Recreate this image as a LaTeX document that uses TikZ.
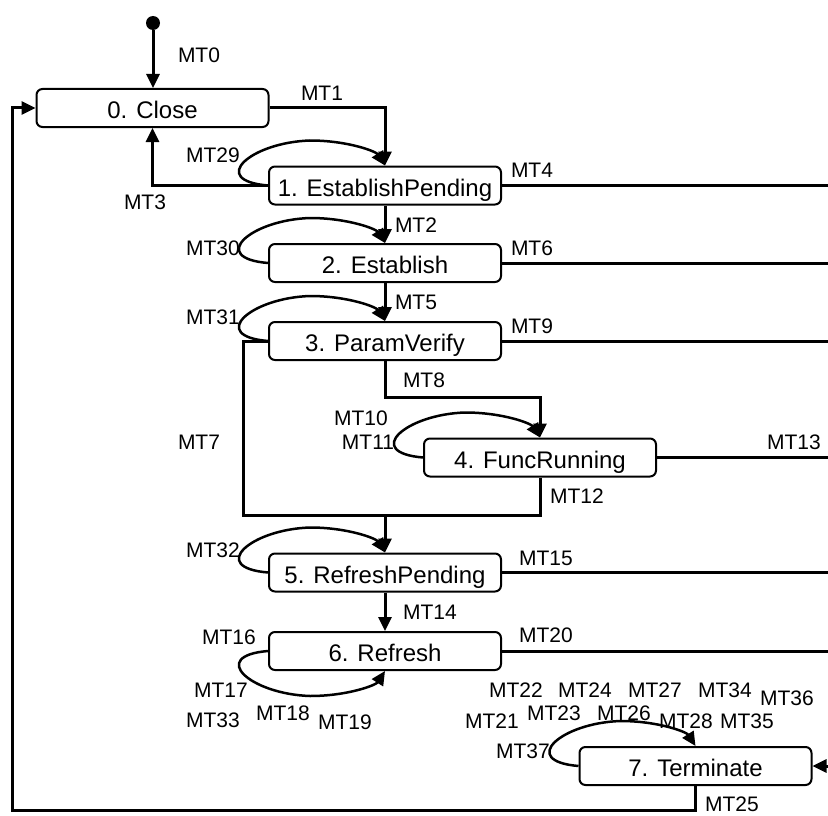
\documentclass[tikz,border=0pt]{standalone}
\usepackage{fontspec}
\setmainfont{Liberation Sans}
\usetikzlibrary{arrows.meta,calc}
\begin{document}
\begin{tikzpicture}[x=1pt,y=1pt,
  state/.style={draw, line width=2pt, rounded corners=6pt, minimum width=232pt, minimum height=38pt,
    inner sep=0pt, text height=21pt, text depth=0pt, font=\fontsize{24}{28}\selectfont},
  lbl/.style={inner sep=0pt, font=\fontsize{21}{25}\selectfont},
  conn/.style={line width=3pt},
  arr/.style={conn, -{Triangle[length=14pt,width=13pt]}},
  loopline/.style={line width=2.5pt, -{Triangle[length=14pt,width=13pt]}},
]
\useasboundingbox (0,0) rectangle (828,-816);

% states
\node[state] (close) at (152.5,-108) {0. Close};
\node[state] (ep)    at (385,-185.5) {1. EstablishPending};
\node[state] (est)   at (385,-263)   {2. Establish};
\node[state] (pv)    at (385,-341)   {3. ParamVerify};
\node[state] (fr)    at (540,-457.5) {4. FuncRunning};
\node[state] (rp)    at (385,-572.5) {5. RefreshPending};
\node[state] (rf)    at (385,-651)   {6. Refresh};
\node[state] (term)  at (695.5,-766) {7. Terminate};

\node[circle, fill, inner sep=0pt, minimum size=14pt] (init) at (153,-23) {};

\coordinate (R)  at (828,0);
\coordinate (c8) at (385,-397);
\coordinate (l7) at (243,-341);
\coordinate (m)  at (385,-515);
\coordinate (bl) at (12,-810);

% straight connectors
\draw[arr] (init) -- (init |- close.north);
\draw[arr] (close.east) -| (ep.north);
\draw[arr] (ep.west) -| (close.south);
\draw[arr] (ep.south) -- (est.north);
\draw[arr] (est.south) -- (pv.north);
\draw[arr] (pv.south) -- (c8) -| (fr.north);
\draw[conn] (pv.west) -- (l7) |- (m);
\draw[conn] (fr.south) |- (m);
\draw[arr] (m) -- (rp.north);
\draw[arr] (rp.south) -- (rf.north);
\draw[arr] (term.south) |- (bl) |- (close.west);

\draw[conn] (ep.east) -- (ep.east -| R);
\draw[conn] (est.east) -- (est.east -| R);
\draw[conn] (pv.east) -- (pv.east -| R);
\draw[conn] (fr.east) -- (fr.east -| R);
\draw[conn] (rp.east) -- (rp.east -| R);
\draw[conn] (rf.east) -- (rf.east -| R);
\draw[arr] (term.east -| R) -- (term.east);

% self loops
\foreach \n in {ep,est,pv,rp,fr,term}{
  \draw[loopline] (\n.west) .. controls +(-60,5) and +(-60,-2) .. ($(\n.north)+(-75,25)$)
     .. controls +(38,0) and +(-9,14) .. (\n.north);
}
\draw[loopline] (rf.west) .. controls +(-60,-5) and +(-60,2) .. ($(rf.south)+(-75,-25)$)
     .. controls +(38,0) and +(-9,-14) .. (rf.south);

% labels
\node[lbl] (t0)  at (199,-55)  {MT0};
\node[lbl] (t1)  at (322,-93)  {MT1};
\node[lbl] (t29) at (213,-155) {MT29};
\node[lbl] (t3)  at (145,-202) {MT3};
\node[lbl] (t4)  at (532,-170) {MT4};
\node[lbl] (t2)  at (416,-225) {MT2};
\node[lbl] (t30) at (213,-248) {MT30};
\node[lbl] (t6)  at (532,-248) {MT6};
\node[lbl] (t5)  at (416,-302) {MT5};
\node[lbl] (t31) at (213,-317) {MT31};
\node[lbl] (t9)  at (532,-326) {MT9};
\node[lbl] (t8)  at (424,-380) {MT8};
\node[lbl] (t10) at (361,-418) {MT10};
\node[lbl] (t11) at (368,-442) {MT11};
\node[lbl] (t7)  at (199,-442) {MT7};
\node[lbl] (t13) at (794,-442) {MT13};
\node[lbl] (t12) at (577,-496) {MT12};
\node[lbl] (t32) at (213,-550) {MT32};
\node[lbl] (t15) at (546,-558) {MT15};
\node[lbl] (t14) at (430,-612) {MT14};
\node[lbl] (t16) at (229,-637) {MT16};
\node[lbl] (t20) at (546,-635) {MT20};
\node[lbl] (t17) at (221,-690) {MT17};
\node[lbl] (t33) at (213,-720) {MT33};
\node[lbl] (t18) at (283,-713) {MT18};
\node[lbl] (t19) at (345,-722) {MT19};
\node[lbl] (t22) at (516,-690) {MT22};
\node[lbl] (t24) at (585,-690) {MT24};
\node[lbl] (t27) at (655,-690) {MT27};
\node[lbl] (t34) at (725,-690) {MT34};
\node[lbl] (t36) at (787,-698) {MT36};
\node[lbl] (t21) at (492,-721) {MT21};
\node[lbl] (t23) at (554,-713) {MT23};
\node[lbl] (t26) at (624,-713) {MT26};
\node[lbl] (t28) at (686,-721) {MT28};
\node[lbl] (t35) at (747,-721) {MT35};
\node[lbl] (t37) at (523,-751) {MT37};
\node[lbl] (t25) at (732,-804) {MT25};
\end{tikzpicture}
\end{document}
